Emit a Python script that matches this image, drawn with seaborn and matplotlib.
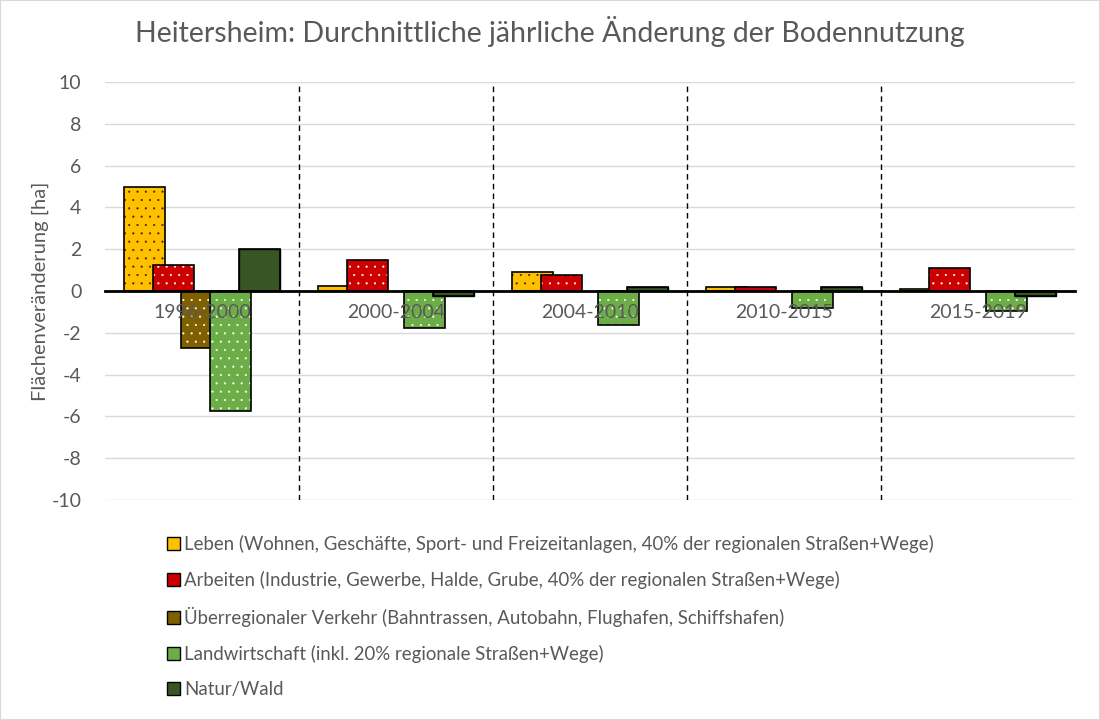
import matplotlib
matplotlib.use("Agg")
import matplotlib.pyplot as plt
from matplotlib.patches import Patch, Rectangle
import pandas as pd
import seaborn as sns

# data
perioden = ["1996-2000", "2000-2004", "2004-2010", "2010-2015", "2015-2019"]
serien = [
    "Leben (Wohnen, Geschäfte, Sport- und Freizeitanlagen, 40% der regionalen Straßen+Wege)",
    "Arbeiten (Industrie, Gewerbe, Halde, Grube, 40% der regionalen Straßen+Wege)",
    "Überregionaler Verkehr (Bahntrassen, Autobahn, Flughafen, Schiffshafen)",
    "Landwirtschaft (inkl. 20% regionale Straßen+Wege)",
    "Natur/Wald",
]
leben = [5.0, 0.25, 0.9, 0.2, 0.1]
arbeiten = [1.25, 1.5, 0.75, 0.2, 1.1]
verkehr = [-2.75, 0.0, 0.0, 0.0, 0.0]
landwirtschaft = [-5.75, -1.75, -1.65, -0.8, -0.97]
natur = [2.0, -0.25, 0.17, 0.2, -0.25]

farben = ["#FFC000", "#CC0000", "#7F6000", "#6CAD47", "#375623"]
punktfarben = ["#3a2a00", "white", "white", "white", None]

werte = [leben, arbeiten, verkehr, landwirtschaft, natur]
rows = []
for name, vals in zip(serien, werte):
    for p, v in zip(perioden, vals):
        rows.append({"Periode": p, "Serie": name, "Wert": v})
df = pd.DataFrame(rows)

grau = "#595959"
sns.set_style("white")
plt.rcParams["font.family"] = ["Lato", "DejaVu Sans"]
plt.rcParams["axes.unicode_minus"] = False
plt.rcParams["hatch.linewidth"] = 0.3

fig = plt.figure(figsize=(11, 7.2), dpi=100)
ax = fig.add_axes([105 / 1100, 1 - 500 / 720, 970 / 1100, 418 / 720])

group_width = 0.735
bar_scale = 1.44  # bars overlap like in the Excel original
sns.barplot(data=df, x="Periode", y="Wert", hue="Serie", hue_order=serien,
            palette=farben, saturation=1, width=group_width, dodge=True,
            errorbar=None, edgecolor="black", linewidth=1, legend=False, ax=ax)

n = len(perioden)
for i, serie in enumerate(serien):
    for j in range(n):
        p = ax.patches[i * n + j]
        w = p.get_width()
        nw = w * bar_scale
        x0 = p.get_x() + w / 2 - nw / 2
        p.set_x(x0)
        p.set_width(nw)
        z = 1.1 + 0.1 * i
        p.set_zorder(z)
        if punktfarben[i] is not None:
            p.set_hatch("..")
            p.set_edgecolor(punktfarben[i])
            p.set_linewidth(0)
        if p.get_height() != 0:
            ax.add_patch(Rectangle((x0, p.get_y()), nw, p.get_height(),
                                   facecolor="none", edgecolor="black",
                                   linewidth=1.2, zorder=z + 0.05))

ax.set_ylim(-10, 10)
ax.set_xlim(-0.5, n - 0.5)
ax.set_yticks(range(-10, 11, 2))
for t in range(-10, 11, 2):
    ax.axhline(t, color="#d9d9d9", linewidth=1, zorder=0.5)
ax.xaxis.set_zorder(5)
ax.yaxis.set_zorder(5)
for s in ["left", "right", "top"]:
    ax.spines[s].set_visible(False)
ax.spines["bottom"].set_position(("data", 0))
ax.spines["bottom"].set_color("black")
ax.spines["bottom"].set_linewidth(2)
ax.spines["bottom"].set_zorder(5)
ax.tick_params(axis="both", length=0, labelsize=14, labelcolor=grau)
ax.tick_params(axis="x", pad=9)
ax.tick_params(axis="y", pad=17)
ax.set_xlabel("")
ax.set_ylabel("Flächenveränderung [ha]", fontsize=14.5, color=grau, labelpad=2)

for k in range(n - 1):
    ax.axvline(k + 0.5, color="black", linestyle=(0, (4, 3)), linewidth=1, zorder=1)

fig.suptitle("Heitersheim: Durchnittliche jährliche Änderung der Bodennutzung",
             x=0.5, y=1 - 16 / 720, va="top", fontsize=20.5, color=grau)

handles = [Patch(facecolor=c, edgecolor="black", linewidth=1) for c in farben]
fig.legend(handles, serien, loc="upper left", bbox_to_anchor=(150 / 1100, 1 - 518 / 720),
           frameon=False, fontsize=13.4, labelcolor=grau, labelspacing=0.97,
           handlelength=0.7, handleheight=0.7, handletextpad=0.25)

fig.patches.append(Rectangle((0, 0), 1, 1, transform=fig.transFigure,
                             facecolor="none", edgecolor="#d9d9d9", linewidth=1.5))

fig.savefig("out.png", dpi=100)
